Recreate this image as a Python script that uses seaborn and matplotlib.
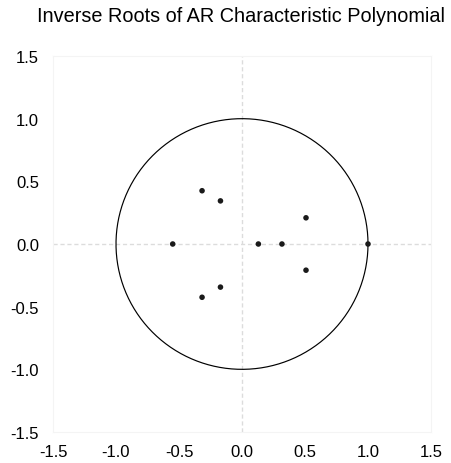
import numpy as np
import matplotlib
matplotlib.use("Agg")
import matplotlib.pyplot as plt
import seaborn as sns

# inverse roots
root_re = [-0.317, -0.171, -0.55, 0.13, 0.317, 0.508, 1.0, 0.508, -0.171, -0.317]
root_im = [0.425, 0.344, 0.0, 0.0, 0.0, 0.209, 0.0, -0.209, -0.344, -0.425]
ticks = [-1.5, -1.0, -0.5, 0.0, 0.5, 1.0, 1.5]

sns.set_style("white")
plt.rcParams['font.family'] = ['Liberation Sans', 'DejaVu Sans']

fig = plt.figure(figsize=(4.51, 4.64), dpi=100)
ax = fig.add_axes([53 / 451, 1 - 433 / 464, 378 / 451, 376 / 464])

# unit circle
theta = np.linspace(0, 2 * np.pi, 400)
ax.plot(np.cos(theta), np.sin(theta), color="black", lw=0.85)

# zero lines
ax.axhline(0, color="#dcdcdc", lw=1, ls=(0, (3, 2)), zorder=0)
ax.axvline(0, color="#dcdcdc", lw=1, ls=(0, (3, 2)), zorder=0)

sns.scatterplot(x=root_re, y=root_im, ax=ax, color="#1a1a1a", s=16,
                edgecolor="none", zorder=3)

ax.set_xlim(-1.5, 1.5)
ax.set_ylim(-1.5, 1.5)
ax.set_xticks(ticks)
ax.set_yticks(ticks)
ax.set_xticklabels([f"{t:.1f}" for t in ticks], fontsize=12, color="black")
ax.set_yticklabels([f"{t:.1f}" for t in ticks], fontsize=12, color="black")
ax.tick_params(axis="x", length=0, pad=9)
ax.tick_params(axis="y", length=0, pad=10)
for s in ax.spines.values():
    s.set_color("#f4f4f4")
    s.set_linewidth(0.8)

fig.text(0.535, 1 - 16 / 464, "Inverse Roots of AR Characteristic Polynomial",
         ha="center", va="center", fontsize=14.3, color="black")

fig.savefig("out.png", dpi=100)
